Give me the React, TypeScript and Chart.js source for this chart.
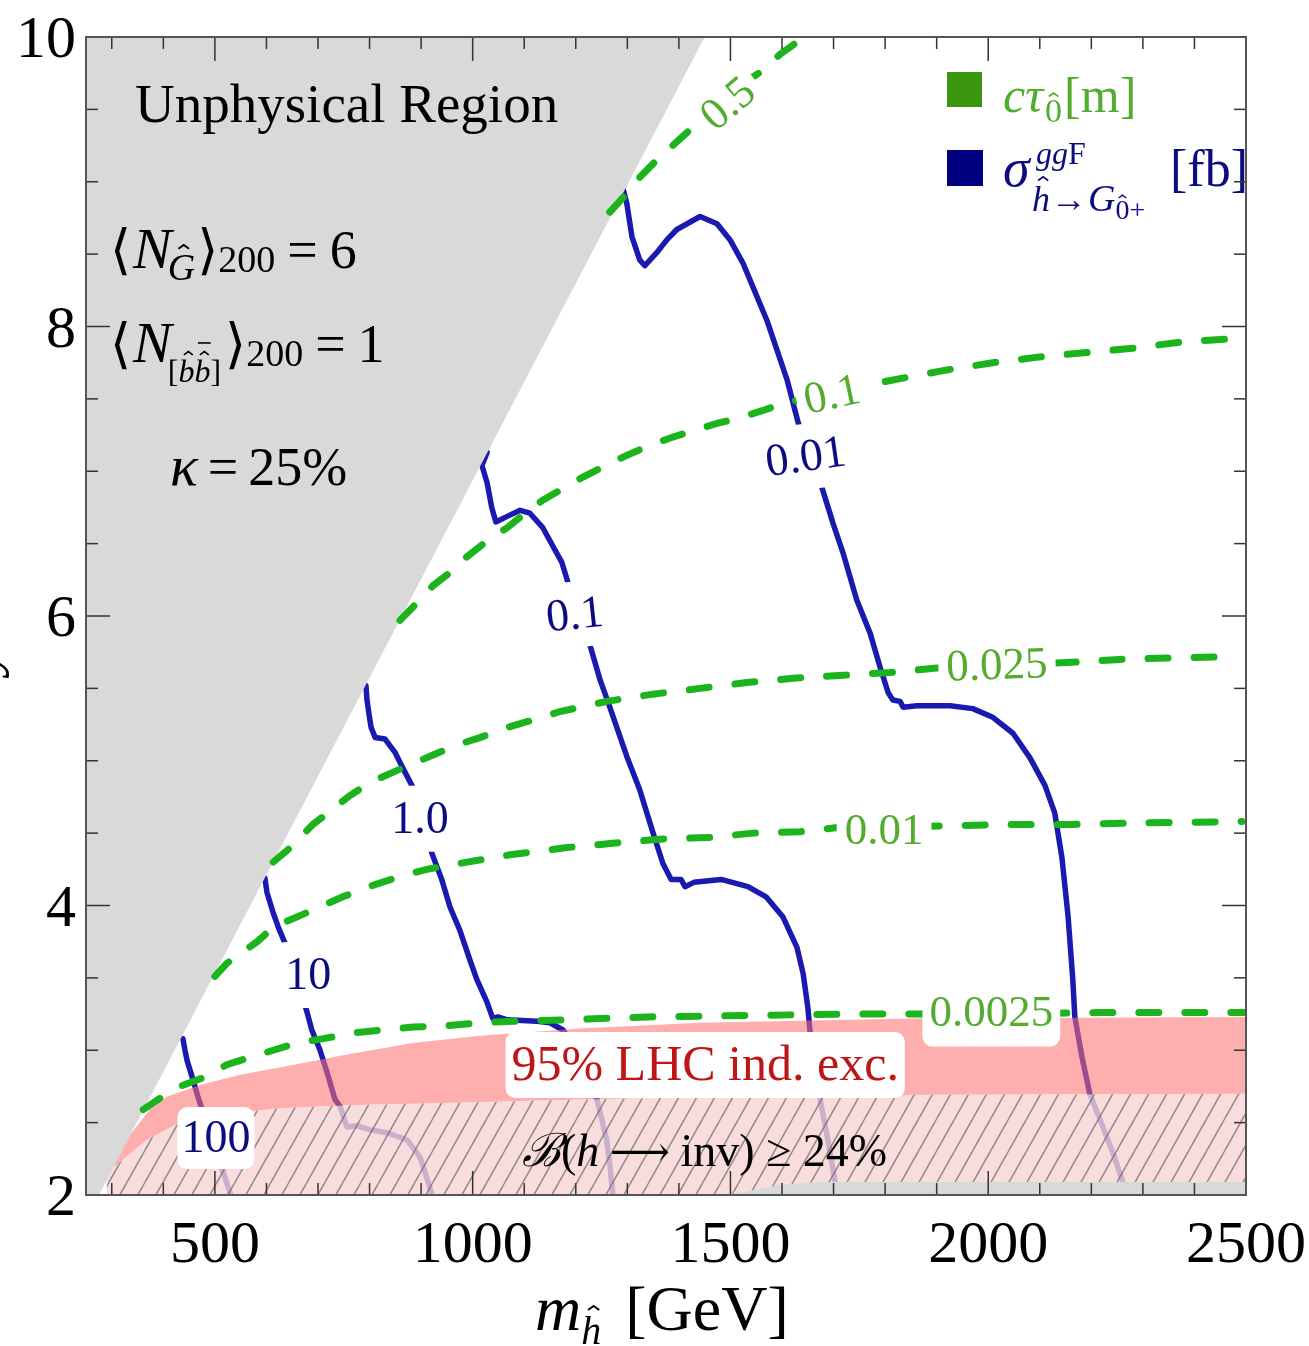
import React, { useEffect, useRef } from 'react';
import { Chart, registerables } from 'chart.js';
Chart.register(...registerables);

const SERIF = '"Liberation Serif", "DejaVu Serif", serif';

// ---- axis ticks ----
const xTickLabels = [500, 1000, 1500, 2000, 2500];
const yTickLabels = [2, 4, 6, 8, 10];

// ---- regions ----
const unphysicalEdge = [[250, 2], [275, 2], [1450, 10]];
const bottomStrip = [[1485, 2.0], [1538, 2.03], [1596, 2.07], [1674, 2.089], [2500, 2.089]];
const lhcUpper = [[300, 2.26], [345, 2.46], [374, 2.59], [407, 2.68], [471, 2.76], [549, 2.83], [626, 2.88], [756, 2.97], [884, 3.05], [1014, 3.10], [1208, 3.15], [1441, 3.19], [1853, 3.22], [2500, 3.23]];
const invLower = [[290, 2.15], [320, 2.24], [368, 2.38], [432, 2.50], [496, 2.55], [626, 2.60], [756, 2.62], [1014, 2.64], [1208, 2.66], [1518, 2.68], [1829, 2.69], [2500, 2.70]];

// ---- sigma contours (fb) ----
const sigma100 = [[438, 3.08], [442, 3.00], [446, 2.93], [458, 2.79], [467, 2.68], [481, 2.53], [494, 2.38], [506, 2.24], [516, 2.16], [531, 2.00]];
const sigma10 = [[597, 4.19], [601, 4.09], [613, 3.95], [624, 3.84], [636, 3.74], [650, 3.58], [665, 3.42], [679, 3.26], [688, 3.14], [704, 3.00], [719, 2.83], [733, 2.66], [743, 2.61], [756, 2.47], [776, 2.48], [801, 2.45], [834, 2.43], [873, 2.38], [898, 2.26], [911, 2.12], [921, 2.00]];
const sigma1 = [[793, 5.52], [795, 5.42], [799, 5.32], [803, 5.23], [811, 5.16], [830, 5.15], [849, 5.06], [863, 4.96], [882, 4.83], [902, 4.60], [921, 4.36], [940, 4.18], [956, 3.99], [975, 3.83], [995, 3.62], [1008, 3.49], [1028, 3.33], [1039, 3.22], [1049, 3.23], [1067, 3.21], [1125, 3.20], [1150, 3.19], [1175, 3.14], [1204, 3.00], [1228, 2.79], [1241, 2.66], [1260, 2.38], [1266, 2.21], [1272, 2.00]];
const sigma01 = [[1028, 7.13], [1018, 7.04], [1028, 6.92], [1037, 6.75], [1045, 6.65], [1068, 6.69], [1092, 6.73], [1111, 6.71], [1136, 6.61], [1156, 6.48], [1173, 6.37], [1185, 6.23], [1207, 6.00], [1229, 5.78], [1247, 5.56], [1266, 5.37], [1299, 5.03], [1324, 4.80], [1350, 4.50], [1369, 4.29], [1385, 4.18], [1404, 4.18], [1412, 4.13], [1429, 4.16], [1482, 4.18], [1534, 4.13], [1569, 4.06], [1602, 3.92], [1629, 3.71], [1641, 3.53], [1650, 3.30], [1654, 3.14], [1664, 2.93], [1674, 2.66], [1689, 2.38], [1703, 2.09]];
const sigma001 = [[1301, 9.05], [1291, 8.96], [1299, 8.85], [1309, 8.62], [1324, 8.46], [1334, 8.42], [1357, 8.51], [1377, 8.60], [1396, 8.67], [1416, 8.71], [1441, 8.76], [1474, 8.71], [1499, 8.60], [1524, 8.44], [1544, 8.27], [1571, 8.04], [1590, 7.84], [1610, 7.63], [1631, 7.34], [1655, 7.10], [1679, 6.87], [1699, 6.64], [1718, 6.44], [1745, 6.11], [1771, 5.88], [1790, 5.65], [1806, 5.47], [1815, 5.42], [1829, 5.41], [1835, 5.37], [1862, 5.38], [1926, 5.38], [1970, 5.36], [2009, 5.30], [2048, 5.19], [2081, 5.02], [2110, 4.83], [2129, 4.64], [2143, 4.33], [2155, 3.92], [2164, 3.49], [2168, 3.23], [2182, 2.95], [2197, 2.70], [2217, 2.52], [2242, 2.29], [2261, 2.09]];

// ---- c tau contours (m) ----
const ctau05 = [[1266, 8.79], [1299, 8.92], [1324, 9.03], [1357, 9.15], [1388, 9.25], [1425, 9.37], [1447, 9.43], [1489, 9.54], [1542, 9.72], [1563, 9.77], [1596, 9.88], [1635, 9.98], [1644, 10.0]];
const ctau01 = [[859, 5.97], [892, 6.09], [923, 6.21], [956, 6.30], [989, 6.41], [1028, 6.52], [1067, 6.61], [1098, 6.70], [1136, 6.80], [1175, 6.88], [1214, 6.96], [1253, 7.03], [1299, 7.11], [1338, 7.17], [1383, 7.23], [1427, 7.28], [1474, 7.33], [1518, 7.37], [1563, 7.42], [1596, 7.46], [1693, 7.55], [1771, 7.60], [1829, 7.64], [1920, 7.70], [2009, 7.75], [2100, 7.79], [2191, 7.82], [2281, 7.85], [2368, 7.89], [2488, 7.92]];
const ctau0025 = [[613, 4.30], [640, 4.38], [690, 4.56], [723, 4.65], [762, 4.76], [801, 4.85], [845, 4.92], [884, 4.98], [923, 5.04], [970, 5.11], [1014, 5.16], [1067, 5.23], [1125, 5.29], [1169, 5.34], [1260, 5.41], [1350, 5.46], [1441, 5.50], [1532, 5.54], [1621, 5.57], [1718, 5.59], [1809, 5.61], [1900, 5.64], [2023, 5.66], [2164, 5.68], [2255, 5.70], [2347, 5.71], [2488, 5.72]];
const ctau001 = [[500, 3.51], [523, 3.60], [582, 3.75], [613, 3.85], [665, 3.93], [710, 4.00], [748, 4.06], [807, 4.14], [859, 4.20], [911, 4.25], [989, 4.30], [1072, 4.35], [1183, 4.40], [1272, 4.43], [1369, 4.46], [1460, 4.47], [1544, 4.50], [1635, 4.51], [1712, 4.54], [1809, 4.54], [2034, 4.56], [2164, 4.56], [2294, 4.57], [2492, 4.58]];
const ctau00025 = [[361, 2.59], [394, 2.67], [432, 2.75], [477, 2.81], [523, 2.90], [568, 2.95], [613, 3.00], [659, 3.05], [710, 3.08], [768, 3.12], [826, 3.14], [884, 3.16], [950, 3.17], [1014, 3.19], [1078, 3.20], [1175, 3.21], [1338, 3.23], [1532, 3.24], [1726, 3.25], [2023, 3.25], [2217, 3.26], [2500, 3.26]];

// ---- contour labels ----
const sigmaLabelText = ['100', '10', '1.0', '0.1', '0.01'];
const sigmaLabelX = [502, 681, 898, 1198, 1646];
const sigmaLabelY = [2.393, 3.52, 4.60, 6.01, 7.10];
const sigmaLabelRot = [0, 0, 0, -6, -8];
const ctauLabelText = ['0.5', '0.1', '0.025', '0.01', '0.0025'];
const ctauLabelX = [1495, 1697, 2017, 1798, 2006];
const ctauLabelY = [9.54, 7.53, 5.66, 4.52, 3.26];
const ctauLabelRot = [-40, -12, -2, 0, 0];

const BLUE = 'rgb(26,26,176)';
const NAVY = 'rgb(12,12,128)';
const GREEN = 'rgb(28,180,28)';
const GREEN_TXT = 'rgb(84,172,46)';
const GRAY = 'rgb(217,217,217)';

type Run = { t: string; size: number; it?: boolean; dy?: number; dx?: number; hat?: number; bar?: number };

function caret(ctx: CanvasRenderingContext2D, cx: number, top: number, size: number) {
  const w = 0.28 * size, h = 0.1 * size;
  ctx.save();
  ctx.lineWidth = Math.max(1.2, size * 0.05);
  ctx.strokeStyle = ctx.fillStyle as string;
  ctx.beginPath();
  ctx.moveTo(cx - w / 2, top + h);
  ctx.lineTo(cx, top);
  ctx.lineTo(cx + w / 2, top + h);
  ctx.stroke();
  ctx.restore();
}

function drawRuns(ctx: CanvasRenderingContext2D, x: number, y: number, runs: Run[], color: string) {
  let cx = x;
  ctx.fillStyle = color;
  ctx.textAlign = 'left';
  ctx.textBaseline = 'alphabetic';
  for (const r of runs) {
    ctx.font = `${r.it ? 'italic ' : ''}${r.size}px ${SERIF}`;
    cx += r.dx || 0;
    const by = y + (r.dy || 0);
    ctx.fillText(r.t, cx, by);
    const w = ctx.measureText(r.t).width;
    const mid = cx + w / 2 + (r.it ? r.size * 0.06 : 0);
    if (r.hat) caret(ctx, mid, by - r.hat * r.size, r.size);
    if (r.bar) {
      ctx.save();
      ctx.strokeStyle = color;
      ctx.lineWidth = Math.max(1.2, r.size * 0.05);
      ctx.beginPath();
      ctx.moveTo(mid - r.size * 0.2, by - r.bar * r.size);
      ctx.lineTo(mid + r.size * 0.2, by - r.bar * r.size);
      ctx.stroke();
      ctx.restore();
    }
    cx += w;
  }
  return cx;
}

function labelBox(ctx: CanvasRenderingContext2D, px: number, py: number, text: string, size: number, color: string, rot: number, padX: number, boxH: number, boxDy: number) {
  ctx.save();
  ctx.translate(px, py);
  ctx.rotate((rot * Math.PI) / 180);
  ctx.font = `${size}px ${SERIF}`;
  const w = ctx.measureText(text).width + 2 * padX;
  ctx.fillStyle = '#fff';
  ctx.beginPath();
  (ctx as any).roundRect(-w / 2, -boxH / 2 + boxDy, w, boxH, 10);
  ctx.fill();
  ctx.fillStyle = color;
  ctx.textAlign = 'center';
  ctx.textBaseline = 'middle';
  ctx.fillText(text, 0, 2);
  ctx.restore();
}

function makeHatch(): CanvasPattern | string {
  const w = 18, h = 32;
  const c = document.createElement('canvas');
  c.width = w; c.height = h;
  const g = c.getContext('2d');
  if (!g) return 'rgba(248,214,214,0.8)';
  g.fillStyle = 'rgba(248,212,212,0.8)';
  g.fillRect(0, 0, w, h);
  g.strokeStyle = 'rgba(110,110,110,0.75)';
  g.lineWidth = 1.5;
  for (const k of [-1, 0, 1]) {
    g.beginPath();
    g.moveTo(k * w, h);
    g.lineTo(k * w + w, 0);
    g.stroke();
  }
  return g.createPattern(c, 'repeat') || 'rgba(248,214,214,0.8)';
}

const pts = (a: number[][]) => a.map(([x, y]) => ({ x, y }));

export default function App() {
  const ref = useRef<HTMLCanvasElement>(null);
  useEffect(() => {
    const canvas = ref.current;
    if (!canvas) return;
    const hatch = makeHatch();
    const base = { showLine: true, pointRadius: 0, pointHoverRadius: 0, tension: 0 };
    const blue = (d: number[][]) => ({ ...base, data: pts(d), borderColor: BLUE, borderWidth: 5.5, borderJoinStyle: 'round', borderCapStyle: 'round', fill: false, order: 7 });
    const green = (d: number[][]) => ({ ...base, data: pts(d), borderColor: GREEN, borderWidth: 7, borderDash: [20, 26], borderCapStyle: 'round', fill: false, order: 2 });

    const datasets: any[] = [
      { ...base, data: pts(unphysicalEdge), borderColor: 'rgba(0,0,0,0)', backgroundColor: GRAY, fill: 'end', order: 3 },
      { ...base, data: pts(bottomStrip), borderColor: 'rgba(0,0,0,0)', backgroundColor: GRAY, fill: 'start', order: 4 },
      { ...base, data: pts(invLower), borderColor: 'rgba(0,0,0,0)', backgroundColor: hatch, fill: 'start', order: 5 },
      { ...base, data: pts(lhcUpper), borderColor: 'rgba(0,0,0,0)', backgroundColor: 'rgba(255,112,112,0.57)', fill: 2, order: 6 },
      blue(sigma100), blue(sigma10), blue(sigma1), blue(sigma01), blue(sigma001),
      green(ctau05), green(ctau01), green(ctau0025), green(ctau001), green(ctau00025),
    ];

    const overlay = {
      id: 'overlay',
      afterDatasetsDraw(chart: any) {
        const { ctx, scales } = chart;
        const X = (v: number) => scales.x.getPixelForValue(v);
        const Y = (v: number) => scales.y.getPixelForValue(v);
        ctx.save();
        // region labels
        labelBox(ctx, X(1451), Y(2.898), '95% LHC ind. exc.', 50, 'rgb(190,22,22)', 0, 6, 66, 0);
        drawRuns(ctx, 522, 1166, [
          { t: 'ℬ', size: 46, it: true },
          { t: '(', size: 46 },
          { t: 'h', size: 46, it: true },
          { t: ' ⟶ ', size: 42 },
          { t: 'inv) ≥ 24%', size: 46 },
        ], '#000');
        // sigma labels
        sigmaLabelText.forEach((t, i) => {
          const isBox = i === 0;
          labelBox(ctx, X(sigmaLabelX[i]), Y(sigmaLabelY[i]), t, 46, NAVY, sigmaLabelRot[i], isBox ? 4 : 10, isBox ? 62 : 66, 0);
        });
        // ctau labels
        ctauLabelText.forEach((t, i) => {
          const isBox = i === 4;
          labelBox(ctx, X(ctauLabelX[i]), Y(ctauLabelY[i]), t, 45, GREEN_TXT, ctauLabelRot[i], isBox ? 7 : 8, isBox ? 54 : 40, isBox ? 7 : 0);
        });
        // text annotations
        drawRuns(ctx, 135, 122, [{ t: 'Unphysical Region', size: 55 }], '#000');
        drawRuns(ctx, 110, 268, [
          { t: '⟨', size: 54 }, { t: 'N', size: 58, it: true, dx: 2 }, { t: 'G', size: 38, it: true, dy: 12, dx: -4, hat: 0.92 },
          { t: '⟩', size: 54, dx: 2 }, { t: '200', size: 38, dy: 4 }, { t: '=', size: 54, dx: 12 }, { t: '6', size: 54, dx: 12 },
        ], '#000');
        drawRuns(ctx, 110, 362, [
          { t: '⟨', size: 54 }, { t: 'N', size: 58, it: true, dx: 2 }, { t: '[', size: 32, dy: 20, dx: -4 }, { t: 'b', size: 32, it: true, dy: 20, hat: 0.95 },
          { t: 'b', size: 32, it: true, dy: 20, hat: 0.95, bar: 1.22 }, { t: ']', size: 32, dy: 20 },
          { t: '⟩', size: 54, dx: 4 }, { t: '200', size: 38, dy: 4 }, { t: '=', size: 54, dx: 12 }, { t: '1', size: 54, dx: 12 },
        ], '#000');
        drawRuns(ctx, 170, 485, [{ t: 'κ', size: 58, it: true }, { t: '=', size: 54, dx: 10 }, { t: '25%', size: 54, dx: 10 }], '#000');
        // legend
        ctx.fillStyle = 'rgb(58,150,14)';
        ctx.fillRect(947, 72, 35, 35);
        ctx.fillStyle = 'rgb(0,0,128)';
        ctx.fillRect(947, 150, 36, 36);
        drawRuns(ctx, 1003, 112, [{ t: 'cτ', size: 50, it: true }, { t: '0', size: 34, dy: 10, dx: 2, hat: 0.85 }, { t: '[m]', size: 50, dx: 2 }], GREEN_TXT);
        drawRuns(ctx, 1003, 186, [{ t: 'σ', size: 54, it: true }], NAVY);
        drawRuns(ctx, 1036, 164, [{ t: 'gg', size: 32, it: true }, { t: 'F', size: 32 }], NAVY);
        drawRuns(ctx, 1032, 211, [{ t: 'h', size: 36, it: true, hat: 0.95 }, { t: '→', size: 36, dx: 1 }, { t: 'G', size: 38, it: true, dx: 1 }, { t: '0', size: 28, dy: 8, hat: 0.85 }, { t: '+', size: 28, dy: 8 }], NAVY);
        drawRuns(ctx, 1170, 186, [{ t: '[fb]', size: 52 }], NAVY);
        ctx.restore();
      },
      afterDraw(chart: any) {
        const { ctx, chartArea: a, scales } = chart;
        const X = (v: number) => scales.x.getPixelForValue(v);
        const Y = (v: number) => scales.y.getPixelForValue(v);
        ctx.save();
        ctx.strokeStyle = '#333';
        ctx.lineWidth = 1.5;
        const seg = (x1: number, y1: number, x2: number, y2: number) => { ctx.beginPath(); ctx.moveTo(x1, y1); ctx.lineTo(x2, y2); ctx.stroke(); };
        for (let v = 300; v < 2500; v += 100) {
          const px = X(v);
          const len = v % 500 === 0 ? 24 : 12;
          seg(px, a.bottom, px, a.bottom - len);
          seg(px, a.top, px, a.top + len);
        }
        for (let v = 2.5; v < 10; v += 0.5) {
          const py = Y(v);
          const len = v % 2 === 0 ? 24 : 12;
          seg(a.left, py, a.left + len, py);
          seg(a.right, py, a.right - len, py);
        }
        ctx.strokeStyle = '#555';
        ctx.lineWidth = 2;
        ctx.strokeRect(a.left, a.top, a.right - a.left, a.bottom - a.top);
        // tick labels
        ctx.fillStyle = '#000';
        ctx.font = `60px ${SERIF}`;
        ctx.textBaseline = 'alphabetic';
        ctx.textAlign = 'center';
        xTickLabels.forEach((v) => ctx.fillText(String(v), X(v), a.bottom + 67));
        ctx.textAlign = 'right';
        yTickLabels.forEach((v) => ctx.fillText(String(v), a.left - 10, Y(v) + 20));
        // axis titles
        drawRuns(ctx, 535, 1330, [{ t: 'm', size: 64, it: true }, { t: 'h', size: 40, it: true, dy: 14, hat: 0.95 }, { t: ' [GeV]', size: 64, dx: 8 }], '#000');
        ctx.translate(-4, 660);
        ctx.rotate(-Math.PI / 2);
        ctx.font = `italic 60px ${SERIF}`;
        ctx.fillStyle = '#000';
        ctx.textAlign = 'center';
        ctx.textBaseline = 'alphabetic';
        ctx.fillText('y', 0, 0);
        ctx.restore();
      },
    };

    const chart = new Chart(canvas, {
      type: 'scatter',
      data: { datasets },
      options: {
        animation: false,
        responsive: false,
        devicePixelRatio: 1,
        events: [],
        layout: { padding: { left: 0, top: 37, right: 63, bottom: 0 } },
        plugins: { legend: { display: false }, tooltip: { enabled: false }, filler: { propagate: false } },
        scales: {
          x: {
            type: 'linear', min: 250, max: 2500,
            afterBuildTicks: (s: any) => { s.ticks = xTickLabels.map((v) => ({ value: v })); },
            afterFit: (s: any) => { s.height = 151; },
            grid: { display: false, drawTicks: false },
            border: { display: false },
            ticks: { display: false },
          },
          y: {
            type: 'linear', min: 2, max: 10,
            afterBuildTicks: (s: any) => { s.ticks = yTickLabels.map((v) => ({ value: v })); },
            afterFit: (s: any) => { s.width = 86; },
            grid: { display: false, drawTicks: false },
            border: { display: false },
            ticks: { display: false },
          },
        },
      } as any,
      plugins: [overlay],
    });
    return () => chart.destroy();
  }, []);
  return (
    <div style={{ position: 'absolute', left: 0, top: 0, width: 1309, height: 1346, background: '#fff' }}>
      <canvas ref={ref} width={1309} height={1346} style={{ display: 'block', width: 1309, height: 1346 }} />
    </div>
  );
}
